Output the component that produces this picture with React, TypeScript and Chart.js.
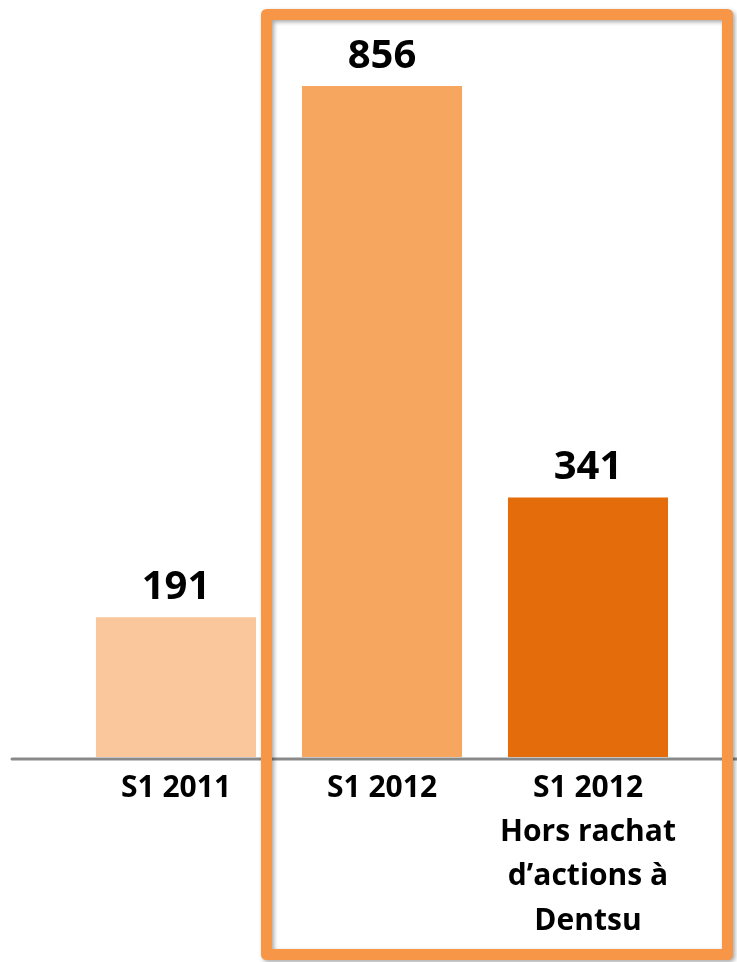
import React, { useEffect, useRef } from "react";
import { Chart, registerables } from "chart.js";

Chart.register(...registerables);

const categories: string[][] = [
  ["S1 2011"],
  ["S1 2012"],
  ["S1 2012", "Hors rachat", "d’actions à", "Dentsu"],
];
const values: number[] = [191, 856, 341];
const barColors: string[] = ["#FAC69B", "#F7A660", "#E46C0A"];

const FONT = "'Open Sans', Lato, 'Liberation Sans', sans-serif";

const decorPlugin = {
  id: "decor",
  afterDatasetsDraw(chart: any) {
    const ctx = chart.ctx;
    const meta = chart.getDatasetMeta(0);
    ctx.save();
    ctx.fillStyle = "#000";
    ctx.font = `bold 40px ${FONT}`;
    ctx.textAlign = "center";
    ctx.textBaseline = "alphabetic";
    meta.data.forEach((bar: any, i: number) => {
      ctx.fillText(String(values[i]), bar.x, bar.y - 18);
    });
    // baseline
    const y0 = chart.scales.y.getPixelForValue(chart.scales.y.min) + 2;
    ctx.strokeStyle = "#898989";
    ctx.lineWidth = 3;
    ctx.lineCap = "round";
    ctx.beginPath();
    ctx.moveTo(12, y0);
    ctx.lineTo(chart.width, y0);
    ctx.stroke();
    ctx.restore();
  },
  afterDraw(chart: any) {
    const ctx = chart.ctx;
    ctx.save();
    ctx.strokeStyle = "#F79646";
    ctx.lineWidth = 11;
    ctx.lineJoin = "round";
    ctx.shadowColor = "rgba(0,0,0,0.35)";
    ctx.shadowBlur = 4;
    ctx.shadowOffsetX = 2;
    ctx.shadowOffsetY = 2;
    ctx.strokeRect(266.5, 14.5, 461, 940);
    ctx.restore();
  },
};

export default function App() {
  const ref = useRef<HTMLCanvasElement>(null);
  useEffect(() => {
    document.body.style.margin = "0";
    let chart: Chart | null = null;
    let cancelled = false;
    const make = () => {
      if (cancelled || !ref.current) return;
      chart = new Chart(ref.current, {
        type: "bar",
        data: {
          labels: categories,
          datasets: [
            {
              data: values,
              backgroundColor: barColors,
              borderWidth: 0,
              barPercentage: 0.777,
              categoryPercentage: 1,
            },
          ],
        },
        options: {
          animation: false,
          responsive: true,
          maintainAspectRatio: false,
          layout: { padding: { left: 73, right: 46, top: 86, bottom: 0 } },
          plugins: { legend: { display: false }, tooltip: { enabled: false } },
          scales: {
            y: { display: false, min: 16, max: 856 },
            x: {
              grid: { display: false, drawTicks: false, tickLength: 0 },
              border: { display: false },
              ticks: {
                color: "#000",
                padding: 9,
                maxRotation: 0,
                autoSkip: false,
                font: { family: FONT, weight: "bold", size: 30, lineHeight: 1.477 },
              },
              afterFit: (s: any) => {
                s.height = 205;
              },
            },
          },
        },
        plugins: [decorPlugin],
      });
    };
    const fonts: any = (document as any).fonts;
    if (fonts && fonts.load) {
      Promise.all([fonts.load(`bold 40px 'Open Sans'`), fonts.load(`bold 30px 'Open Sans'`)])
        .catch(() => {})
        .then(make);
    } else make();
    return () => {
      cancelled = true;
      if (chart) chart.destroy();
    };
  }, []);
  return (
    <div style={{ position: "absolute", left: 0, top: 0, width: 737, height: 962 }}>
      <canvas ref={ref} />
    </div>
  );
}
